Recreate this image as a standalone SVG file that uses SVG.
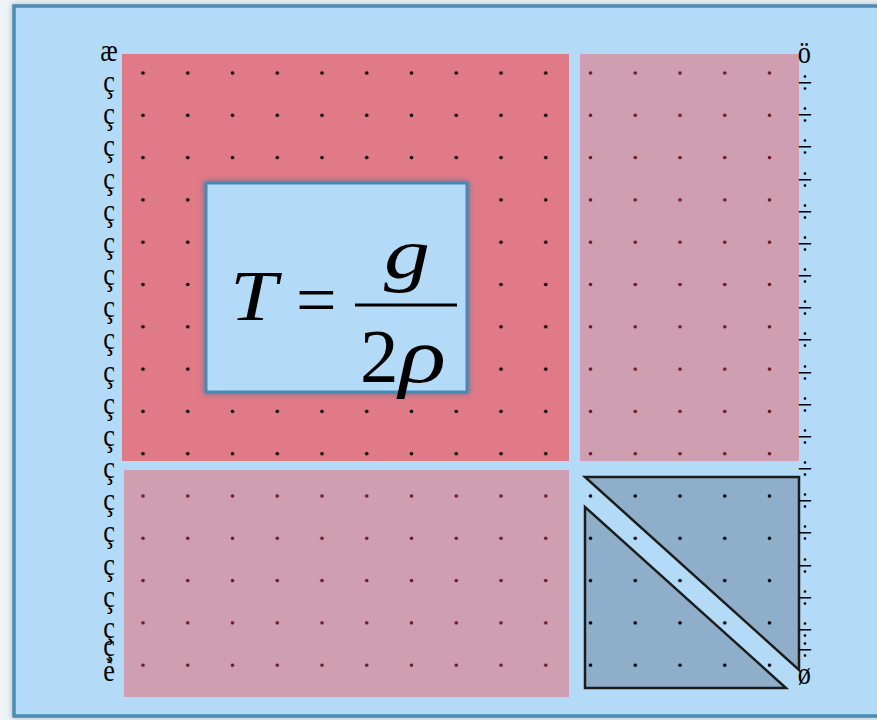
<svg xmlns="http://www.w3.org/2000/svg" width="877" height="720" viewBox="0 0 877 720">
  <defs>
    <style>
      .lbl { font-family: "Liberation Serif", "Times New Roman", serif; font-size: 32px; fill: #000; }
      .eq { font-family: "Liberation Serif", "Times New Roman", serif; fill: #000; }
      .it { font-style: italic; }
      .tri { fill: #8eaec9; stroke: #1c1c1c; stroke-width: 2.5; stroke-linejoin: miter; }
    </style>
    <pattern id="dotsK" patternUnits="userSpaceOnUse" x="120.625" y="51.85" width="44.75" height="42.3">
      <circle cx="22.375" cy="21.15" r="1.8" fill="#000"/>
    </pattern>
    <pattern id="dotsR" patternUnits="userSpaceOnUse" x="120.625" y="51.85" width="44.75" height="42.3">
      <circle cx="22.375" cy="21.15" r="1.8" fill="#6a1520"/>
    </pattern>
    <filter id="shadow" x="-10%" y="-10%" width="120%" height="120%">
      <feGaussianBlur in="SourceAlpha" stdDeviation="3" result="b"/>
      <feFlood flood-color="#7a8a99" flood-opacity="0.6"/>
      <feComposite in2="b" operator="in"/>
      <feMerge><feMergeNode/><feMergeNode in="SourceGraphic"/></feMerge>
    </filter>
    <filter id="glow" x="-10%" y="-10%" width="120%" height="120%">
      <feFlood flood-color="#3b6f99" flood-opacity="0.8"/>
      <feComposite in2="SourceAlpha" operator="in" result="x"/>
      <feGaussianBlur in="x" stdDeviation="3" result="g"/>
      <feMerge><feMergeNode in="g"/><feMergeNode in="SourceGraphic"/></feMerge>
    </filter>
  </defs>

  <rect x="0" y="0" width="877" height="720" fill="#eef3f7"/>

  <g id="frame" filter="url(#shadow)">
    <rect x="14" y="6" width="900" height="710" fill="#b3dbf8" stroke="#4a8fb3" stroke-width="3.5"/>
  </g>

  <g id="block-top-left">
    <rect x="122" y="54" width="447" height="407" fill="#e07a86"/>
    <rect x="122" y="54" width="447" height="407" fill="url(#dotsK)"/>
  </g>

  <g id="block-top-right">
    <rect x="580" y="54" width="219" height="407" fill="#d09eb1"/>
    <rect x="580" y="54" width="219" height="407" fill="url(#dotsR)"/>
  </g>

  <g id="block-bottom-left">
    <rect x="124" y="470" width="445" height="227" fill="#d09eb1"/>
    <rect x="124" y="470" width="445" height="227" fill="url(#dotsR)"/>
  </g>

  <g id="block-bottom-right">
    <polygon class="tri" points="585,477 799,477 799,670"/>
    <polygon class="tri" points="585,507 585,688 786,688"/>
    <rect x="580" y="470" width="219" height="227" fill="url(#dotsK)"/>
  </g>

  <g id="equation">
    <rect x="206" y="183" width="261" height="209" fill="#b3dbf8" stroke="#4a88b0" stroke-width="3" filter="url(#glow)"/>
    <text class="eq it" x="230" y="320" font-size="72" textLength="47" lengthAdjust="spacingAndGlyphs">T</text>
    <text class="eq" x="296" y="324" font-size="72">=</text>
    <line x1="355" y1="305" x2="457" y2="305" stroke="#000" stroke-width="3"/>
    <text class="eq it" x="384" y="278" font-size="72" textLength="46" lengthAdjust="spacingAndGlyphs">g</text>
    <text class="eq" x="360" y="382" font-size="77">2</text>
    <text class="eq it" x="399" y="382" font-size="78" textLength="47" lengthAdjust="spacingAndGlyphs">ρ</text>
  </g>

  <g id="left-bracket" class="lbl" text-anchor="middle" transform="scale(0.82,1)">
    <text x="132.9" y="61">æ</text>
    <text x="132.9" y="92">ç</text>
    <text x="132.9" y="124">ç</text>
    <text x="132.9" y="156">ç</text>
    <text x="132.9" y="189">ç</text>
    <text x="132.9" y="221">ç</text>
    <text x="132.9" y="253">ç</text>
    <text x="132.9" y="285">ç</text>
    <text x="132.9" y="317">ç</text>
    <text x="132.9" y="349">ç</text>
    <text x="132.9" y="382">ç</text>
    <text x="132.9" y="414">ç</text>
    <text x="132.9" y="446">ç</text>
    <text x="132.9" y="478">ç</text>
    <text x="132.9" y="510">ç</text>
    <text x="132.9" y="542">ç</text>
    <text x="132.9" y="575">ç</text>
    <text x="132.9" y="607">ç</text>
    <text x="132.9" y="638">ç</text>
    <text x="132.9" y="656">ç</text>
    <text x="132.9" y="681">è</text>
  </g>

  <g id="right-bracket" class="lbl" text-anchor="start" transform="scale(0.82,1)">
    <text x="973" y="63">ö</text>
    <text x="973" y="93">÷</text>
    <text x="973" y="125">÷</text>
    <text x="973" y="157">÷</text>
    <text x="973" y="190">÷</text>
    <text x="973" y="222">÷</text>
    <text x="973" y="254">÷</text>
    <text x="973" y="286">÷</text>
    <text x="973" y="318">÷</text>
    <text x="973" y="350">÷</text>
    <text x="973" y="383">÷</text>
    <text x="973" y="415">÷</text>
    <text x="973" y="447">÷</text>
    <text x="973" y="479">÷</text>
    <text x="973" y="511">÷</text>
    <text x="973" y="543">÷</text>
    <text x="973" y="576">÷</text>
    <text x="973" y="608">÷</text>
    <text x="973" y="640">÷</text>
    <text x="973" y="660">÷</text>
    <text x="973" y="684">ø</text>
  </g>
</svg>
